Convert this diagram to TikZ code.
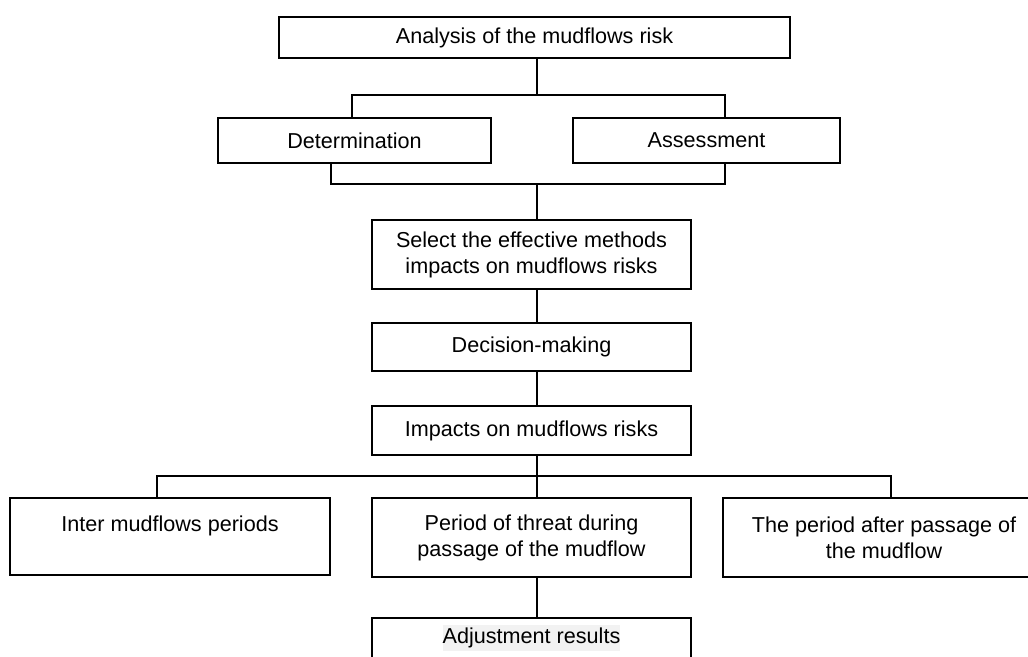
\documentclass[tikz,border=0pt]{standalone}
\usepackage{fontspec}
\setmainfont{Liberation Sans}
\usepackage{tikz}
\definecolor{hlgray}{HTML}{F2F2F2}

\begin{document}
\begin{tikzpicture}[x=0.5pt, y=-0.5pt, line width=0.7pt,
    block/.style={draw, rectangle, align=center, inner sep=0pt,
      font=\fontsize{10.8}{13}\selectfont}]
  \useasboundingbox (0,0) rectangle (1028,657);
  \clip (0,0) rectangle (1028,657);
  \node[block, minimum width=255.5pt, minimum height=20.5pt] (top) at (534.5,37.5) {Analysis of the mudflows risk};
  \node[block, minimum width=136.5pt, minimum height=22.5pt] (det) at (354.5,140.5) {Determination};
  \node[block, minimum width=133.5pt, minimum height=22.5pt] (ass) at (706.5,140.5) {Assessment};
  \node[block, minimum width=159.5pt, minimum height=34.5pt] (sel) at (531.5,254.5) {Select the effective methods\\impacts on mudflows risks};
  \node[block, minimum width=159.5pt, minimum height=24pt] (dec) at (531.5,347) {Decision-making};
  \node[block, minimum width=159.5pt, minimum height=24.5pt] (imp) at (531.5,430.5) {Impacts on mudflows risks};
  \node[block, minimum width=160pt, minimum height=38.5pt] (inter) at (170,536.5) {Inter mudflows periods\\\mbox{}};
  \node[block, minimum width=159.5pt, minimum height=39.5pt] (threat) at (531.5,537.5) {Period of threat during\\passage of the mudflow};
  \node[block, minimum width=161pt, minimum height=39.5pt] (after) at (884,537.5) {The period after passage of\\the mudflow};
  \node[block, minimum width=159.5pt, minimum height=20pt] (adj) at (531.5,638) {{\fboxsep=0pt\colorbox{hlgray}{\strut Adjustment results}}};

  % junctions
  \coordinate (j1) at (537,95);
  \coordinate (j2) at (537,184);
  \coordinate (j3) at (537,476);

  \draw (top.south -| j1) -- (j1);
  \draw (det.north -| 352,0) |- (j1) -| (ass.north -| 725,0);
  \draw (det.south -| 331,0) |- (j2) -| (ass.south -| 725,0);
  \draw (j2) -- (sel.north -| j2);
  \draw (sel.south -| j2) -- (dec.north -| j2);
  \draw (dec.south -| j2) -- (imp.north -| j2);
  \draw (imp.south -| j3) -- (j3);
  \draw (inter.north -| 157,0) |- (j3) -| (after.north -| 891,0);
  \draw (j3) -- (threat.north -| j3);
  \draw (threat.south -| j3) -- (adj.north -| j3);
\end{tikzpicture}
\end{document}
